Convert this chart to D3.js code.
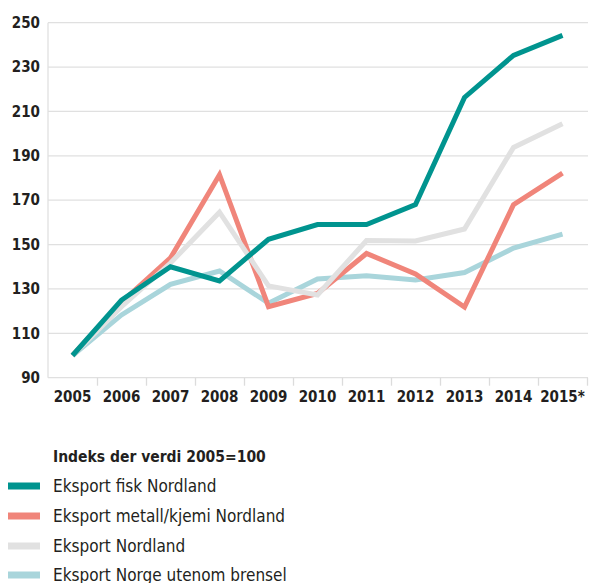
<!DOCTYPE html>
<html>
<head>
<meta charset="utf-8">
<script src="https://cdn.jsdelivr.net/npm/d3@7"></script>
<style>
  html, body { margin: 0; padding: 0; background: #fff; }
  svg { display: block; }
  .tick-label { font-family: "Liberation Sans Narrow", "DejaVu Sans Condensed", "Liberation Sans", sans-serif; font-weight: bold; fill: #231f20; }
  .legend-text { font-family: "Liberation Sans Narrow", "DejaVu Sans Condensed", "Liberation Sans", sans-serif; fill: #231f20; }
</style>
</head>
<body>
<script>
const years = ["2005","2006","2007","2008","2009","2010","2011","2012","2013","2014","2015*"];
const yTicks = [90,110,130,150,170,190,210,230,250];
const fisk   = [100,125,140,133.6,152.4,159,159,168,216.3,235.3,244.3];
const metall = [100,124,144,181.5,122,128,146,136.8,121.8,168,182.2];
const nordland = [100,122,141.7,164.6,131.4,127.3,151.8,151.6,157,193.8,204.5];
const norge  = [100,118.3,132.1,138.1,123.6,134.5,135.9,134,137.4,148.4,154.7];
const legendTitle = "Indeks der verdi 2005=100";
const seriesNames = ["Eksport fisk Nordland","Eksport metall/kjemi Nordland","Eksport Nordland","Eksport Norge utenom brensel"];
const seriesColors = ["#00948f","#f0857a","#e1e1e1","#a9d5db"];

const W = 590, H = 583;
const svg = d3.select("body").append("svg").attr("width", W).attr("height", H);

const pLeft = 48, pRight = 587, pTop = 22.7, pBottom = 377.7;
const x = d3.scaleBand().domain(years).range([pLeft, pRight]).padding(0);
const y = d3.scaleLinear().domain([90, 250]).range([pBottom, pTop]);

// gridlines
svg.append("g").selectAll("line").data(yTicks).join("line")
  .attr("x1", pLeft).attr("x2", 588)
  .attr("y1", d => y(d)).attr("y2", d => y(d))
  .attr("stroke", "#e0e0e0").attr("stroke-width", 1.3);

// left border
svg.append("line").attr("x1", pLeft).attr("x2", pLeft).attr("y1", y(250)).attr("y2", pBottom)
  .attr("stroke", "#e0e0e0").attr("stroke-width", 1.3);

// y labels
svg.append("g").selectAll("text").data(yTicks).join("text")
  .attr("class", "tick-label")
  .attr("x", 40).attr("y", d => y(d)).attr("dy", "0.35em")
  .attr("text-anchor", "end").attr("font-size", 15)
  .text(d => d);

// x axis
const xAxis = svg.append("g").attr("transform", `translate(0,${pBottom})`)
  .call(d3.axisBottom(x).tickSize(0).tickPadding(0));
xAxis.select(".domain").remove();
xAxis.selectAll(".tick text").attr("class", "tick-label").attr("font-size", 15)
  .attr("y", 19).attr("dy", "0.35em");
// tick separators at band edges
const edges = years.map(d => x(d)).concat([x(years[years.length-1]) + x.bandwidth()]);
svg.append("g").selectAll("line").data(edges.slice(1)).join("line")
  .attr("x1", d => d + 0.5).attr("x2", d => d + 0.5)
  .attr("y1", pBottom).attr("y2", pBottom + 8)
  .attr("stroke", "#dcdcdc").attr("stroke-width", 1.3);

// lines
const line = d3.line().x((d, i) => x(years[i]) + x.bandwidth() / 2).y(d => y(d));
const drawOrder = [3, 1, 2, 0];
const allSeries = [fisk, metall, nordland, norge];
drawOrder.forEach(k => {
  svg.append("path").datum(allSeries[k])
    .attr("d", line).attr("fill", "none")
    .attr("stroke", seriesColors[k]).attr("stroke-width", 5)
    .attr("stroke-linejoin", "miter");
});

// legend
svg.append("text").attr("class", "legend-text").attr("font-weight", "bold")
  .attr("x", 53).attr("y", 457).attr("dy", "0.35em").attr("font-size", 15.5)
  .text(legendTitle);
const legendRows = [486, 516, 546, 575];
seriesNames.forEach((name, i) => {
  svg.append("rect").attr("x", 8).attr("y", legendRows[i] - 3.5).attr("width", 32).attr("height", 7)
    .attr("fill", seriesColors[i]);
  svg.append("text").attr("class", "legend-text").attr("x", 53).attr("y", legendRows[i])
    .attr("dy", "0.35em").attr("font-size", 17).text(name);
});
</script>
</body>
</html>
